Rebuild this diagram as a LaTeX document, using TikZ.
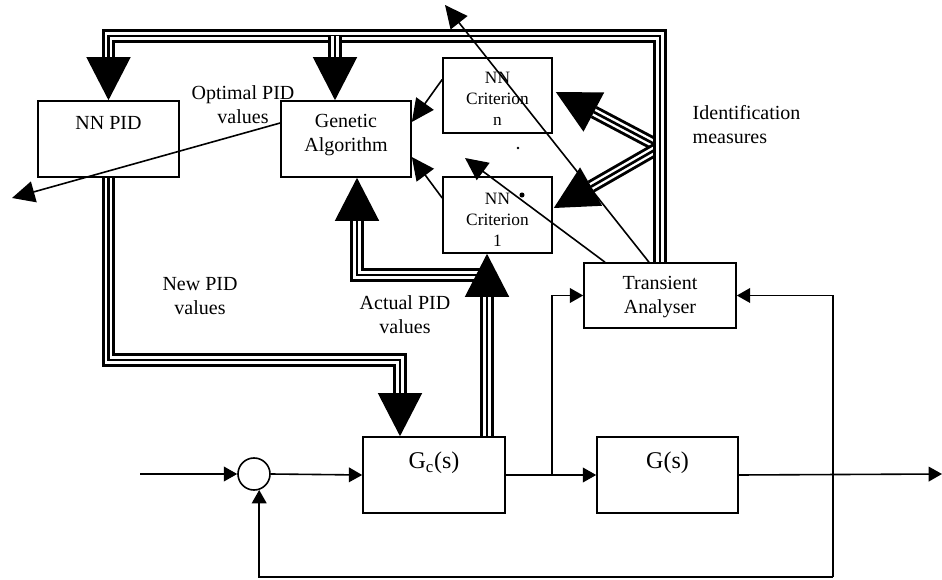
\documentclass[tikz,border=0pt]{standalone}
\usepackage{fontspec}
\setmainfont{Liberation Serif}
\usetikzlibrary{arrows.meta,calc}
\begin{document}
\begin{tikzpicture}[x=0.75pt,y=-0.75pt,
  box/.style={draw, line width=1.2pt, rectangle, inner sep=0pt},
  txt/.style={font=\fontsize{15}{18}\selectfont, align=center},
  smalltxt/.style={font=\fontsize{13}{15.75}\selectfont, align=center},
  bigtxt/.style={font=\fontsize{18}{21}\selectfont, align=center},
  triple/.style={draw=white, line width=5.6pt,
     preaction={draw=black, line width=10pt},
     postaction={draw=black, line width=2pt}},
  bigarrow/.style={line width=1pt, -{Triangle[length=32.25pt,width=33pt]}},
  marrow/.style={line width=1.2pt, -{Triangle[length=17pt,width=16pt]}},
  sarrow/.style={line width=1.2pt, -{Triangle[length=10pt,width=11pt]}},
  sline/.style={line width=1.2pt}]
\useasboundingbox (0,0) rectangle (942,580);

% boxes
\node[box, minimum width=141*0.75pt, minimum height=76*0.75pt,
  label={[txt,yshift=12pt]center:NN PID}] (nnpid) at (108.5,139) {};
\node[box, minimum width=130*0.75pt, minimum height=76*0.75pt,
  label={[txt,yshift=3pt]center:Genetic\\Algorithm}] (ga) at (346,139) {};
\node[box, minimum width=109*0.75pt, minimum height=75*0.75pt,
  label={[smalltxt,yshift=-2.6pt]center:NN\\Criterion\\n}] (critn) at (497.5,95.5) {};
\node[box, minimum width=109*0.75pt, minimum height=76*0.75pt,
  label={[smalltxt,yshift=-3.75pt]center:NN\\Criterion\\1}] (crit1) at (497.5,215) {};
\node[box, minimum width=152*0.75pt, minimum height=65*0.75pt,
  label={[txt,yshift=-1.5pt]center:Transient\\Analyser}] (trans) at (660,295.5) {};
\node[box, minimum width=142*0.75pt, minimum height=76*0.75pt,
  label={[bigtxt,yshift=9pt]center:G\textsubscript{c}(s)}] (gc) at (434,475) {};
\node[box, minimum width=141*0.75pt, minimum height=76*0.75pt,
  label={[bigtxt,yshift=9pt]center:G(s)}] (g) at (667.5,475) {};
\node[draw, circle, line width=1.2pt, minimum size=24pt, inner sep=0pt] (sum) at (254,474) {};

% coordinates
\coordinate (in) at (140,474);
\coordinate (out) at (942,474);
\coordinate (br) at (552,474);
\coordinate (fb) at (833,577);
\coordinate (bustl) at (108.5,36);
\coordinate (nnbase) at ($(nnpid.north)+(0,-43)$);
\coordinate (gatop) at ($(ga.north)+(-11,0)$);
\coordinate (gabase) at ($(gatop)+(0,-43)$);
\coordinate (newc) at (108.5,360);
\coordinate (gctop) at ($(gc.north)+(-34,0)$);
\coordinate (gcbase) at ($(gctop)+(0,-43)$);
\coordinate (gcout) at ($(gc.north)+(53,0)$);
\coordinate (c1bot) at (crit1.south -| gcout);
\coordinate (c1base) at ($(c1bot)+(0,43)$);
\coordinate (actj) at (487,275);
\coordinate (gabot) at ($(ga.south)+(11,0)$);
\coordinate (gabbase) at ($(gabot)+(0,43)$);
\coordinate (idm) at (660,147);
\coordinate (tn) at ($(critn.east)+(3,-3.5)$);
\coordinate (t1) at ($(crit1.east)+(1,-7)$);
\coordinate (bn) at ($(tn)!32.25pt!(idm)$);
\coordinate (b1) at ($(t1)!32.25pt!(idm)$);
\coordinate (optend) at (12,198);
\coordinate (lt1) at (445,5);
\coordinate (lt2) at (465,158);

% main loop
\draw[sarrow] (in) -- (sum.west);
\draw[sarrow] (sum.east) -- (gc.west);
\draw[sarrow] (gc.east) -- (g.west);
\draw[sarrow] (g.east) -- (out);
\draw[sarrow] (br) |- (trans.west);
\draw[sarrow] (fb) |- (trans.east);
\draw[sarrow] (fb) -| (sum.-72);

% triple connectors
\draw[triple] (idm) -- (bn);
\draw[bigarrow] (bn) -- (tn);
\draw[triple] (idm) -- (b1);
\draw[bigarrow] (b1) -- (t1);
\draw[triple] (trans.north) |- (bustl) -- (nnbase);
\draw[bigarrow] (nnbase) -- (nnpid.north);
\draw[triple] (gatop |- bustl) -- (gabase);
\draw[bigarrow] (gabase) -- (gatop);
\draw[triple] (nnpid.south) -- (newc) -| (gcbase);
\draw[bigarrow] (gcbase) -- (gctop);
\draw[triple] (actj) -| (gabbase);
\draw[bigarrow] (gabbase) -- (gabot);
\draw[triple] (gcout) -- (c1base);
\draw[bigarrow] (c1base) -- (c1bot);

% thin arrows
\draw[marrow] ($(ga.west)+(0,-16)$) -- (optend);
\draw[marrow] ($(critn.west)+(0,-16)$) -- ($(ga.east)+(0,-17)$);
\draw[marrow] ($(crit1.west)+(0,-17)$) -- ($(ga.east)+(0,18)$);
\draw[marrow] ($(trans.north)+(-11,0)$) -- (lt1);
\draw[marrow] ($(trans.north)+(-55,0)$) -- (lt2);

% dots
\fill (518,148) circle (1pt);
\fill (522,195) circle (1.9pt);

% labels
\node[txt] (optl) at (243,105) {Optimal PID\\values};
\node[txt] (newl) at (200,296) {New PID\\values};
\node[txt] (actl) at (405,315) {Actual PID\\values};
\node[txt, align=left, anchor=west] (idl) at (688,124.5) {Identification\\measures};
\end{tikzpicture}
\end{document}
